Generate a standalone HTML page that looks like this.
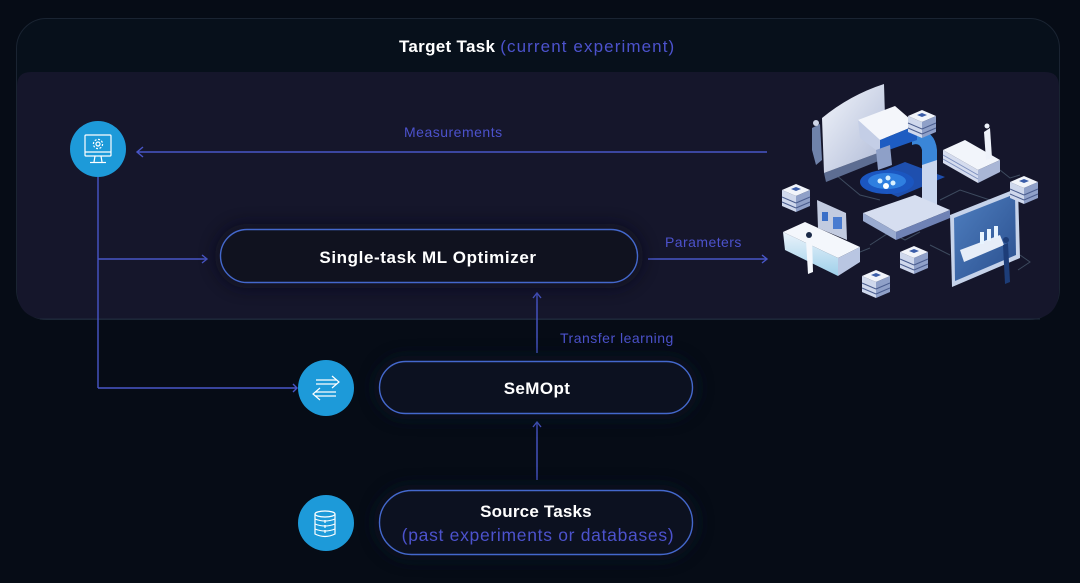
<!DOCTYPE html>
<html><head><meta charset="utf-8"><style>
html,body{margin:0;padding:0;background:#060c16;}
svg{display:block;}
text{font-family:"Liberation Sans",sans-serif;}
</style></head><body>
<svg width="1080" height="583" viewBox="0 0 1080 583" xmlns="http://www.w3.org/2000/svg">
<defs>
<linearGradient id="pan" x1="0" y1="0" x2="1" y2="1"><stop offset="0" stop-color="#f2f5fb"/><stop offset="1" stop-color="#aeb9d6"/></linearGradient>
<linearGradient id="scr" x1="0" y1="0" x2="1" y2="1"><stop offset="0" stop-color="#4f7fc0"/><stop offset="1" stop-color="#2a4f8e"/></linearGradient>
<linearGradient id="bench" x1="0" y1="0" x2="0" y2="1"><stop offset="0" stop-color="#eaf3fb"/><stop offset="1" stop-color="#9fd0ea"/></linearGradient>
<filter id="glow" x="-20%" y="-50%" width="140%" height="200%"><feGaussianBlur stdDeviation="8"/></filter>
</defs>
<rect width="1080" height="583" fill="#060c16"/>
<!-- outer box -->
<rect x="16.5" y="18.5" width="1043" height="301" rx="30" fill="#07101b" stroke="#1a2432" stroke-width="1"/>
<!-- inner box -->
<path d="M17,86 Q17,72 31,72 L1045,72 Q1059,72 1059,86 L1059,289 Q1059,319 1029,319 L47,319 Q17,319 17,289 Z" fill="#15162b"/>
<line x1="40" y1="319" x2="1040" y2="319" stroke="#1f2a3c" stroke-width="1"/>

<!-- title -->
<text x="399" y="52" font-size="17" font-weight="bold" fill="#ffffff" letter-spacing="0.3">Target Task <tspan font-weight="normal" fill="#4c52cc" letter-spacing="1.1">(current experiment)</tspan></text>

<!-- connectors -->
<g stroke="#4856c8" stroke-width="1.4" fill="none">
<line x1="138" y1="152" x2="767" y2="152"/>
<polyline points="143,147 137,152 143,157"/>
<line x1="98" y1="177" x2="98" y2="388"/>
<line x1="98" y1="259" x2="207" y2="259"/>
<polyline points="202,255 207,259 202,263"/>
<line x1="98" y1="388" x2="297" y2="388"/>
<polyline points="293,384 297,388 293,392"/>
<line x1="648" y1="259" x2="767" y2="259"/>
<polyline points="762,255 767,259 762,263"/>
<line x1="537" y1="353" x2="537" y2="294"/>
<polyline points="533,298 537,293 541,298"/>
<line x1="537" y1="480" x2="537" y2="423"/>
<polyline points="533,427 537,422 541,427"/>
</g>

<!-- labels -->
<text x="404" y="137" font-size="14" fill="#4c52cc" letter-spacing="0.5">Measurements</text>
<text x="665" y="247" font-size="14" fill="#4c52cc" letter-spacing="0.45">Parameters</text>
<text x="560" y="343" font-size="14" fill="#4c52cc" letter-spacing="0.5">Transfer learning</text>

<!-- pill glows -->
<g fill="#0a0d1a" opacity="0.6" filter="url(#glow)">
<rect x="215" y="224" width="428" height="64" rx="32"/>
</g>
<g fill="#0e1626" opacity="0.6" filter="url(#glow)">
<rect x="374" y="356" width="324" height="63" rx="31"/>
<rect x="374" y="485" width="324" height="75" rx="37"/>
</g>
<!-- pills -->
<rect x="220.5" y="229.5" width="417" height="53" rx="26.5" fill="#10121f" stroke="#4468cc" stroke-width="1.4"/>
<text x="428" y="263" font-size="17" font-weight="bold" fill="#ffffff" text-anchor="middle" letter-spacing="0.6">Single-task ML Optimizer</text>
<rect x="379.5" y="361.5" width="313" height="52" rx="26" fill="#0c1120" stroke="#4468cc" stroke-width="1.4"/>
<text x="537" y="394" font-size="17" font-weight="bold" fill="#ffffff" text-anchor="middle" letter-spacing="0.4">SeMOpt</text>
<rect x="379.5" y="490.5" width="313" height="64" rx="32" fill="#0c1120" stroke="#4468cc" stroke-width="1.4"/>
<text x="536" y="517" font-size="17" font-weight="bold" fill="#ffffff" text-anchor="middle" letter-spacing="0.2">Source Tasks</text>
<text x="538" y="541" font-size="17.5" fill="#4c52cc" text-anchor="middle" letter-spacing="0.7">(past experiments or databases)</text>

<!-- circle icons -->
<circle cx="98" cy="149" r="28" fill="#1d9ad9"/>
<g stroke="#ffffff" stroke-width="1.2" fill="none">
<rect x="85" y="135" width="26" height="21" rx="1"/>
<line x1="85" y1="152" x2="111" y2="152"/>
<polyline points="95,156 94,162"/><polyline points="101,156 102,162"/>
<line x1="90" y1="162.5" x2="106" y2="162.5"/>
<circle cx="98" cy="144" r="2"/>
<circle cx="98" cy="144" r="4.6" stroke-dasharray="2 1.6"/>
</g>

<circle cx="326" cy="388" r="28" fill="#1d9ad9"/>
<g stroke="#ffffff" stroke-width="1.2" fill="none">
<line x1="316" y1="380" x2="337" y2="380"/><line x1="316" y1="384" x2="337" y2="384"/>
<polyline points="332,376 339,382 332,388"/>
<line x1="315" y1="392" x2="336" y2="392"/><line x1="315" y1="396" x2="336" y2="396"/>
<polyline points="320,388 313,394 320,400"/>
</g>

<circle cx="326" cy="523" r="28" fill="#1d9ad9"/>
<g stroke="#ffffff" stroke-width="1.2" fill="none">
<ellipse cx="325" cy="514" rx="10" ry="3"/>
<path d="M315,514 L315,534 Q325,539 335,534 L335,514"/>
<path d="M315,519 Q325,523 335,519"/><path d="M315,524 Q325,528 335,524"/><path d="M315,529 Q325,533 335,529"/>
<line x1="325" y1="520" x2="325" y2="523"/><line x1="325" y1="525" x2="325" y2="528"/><line x1="325" y1="530" x2="325" y2="533"/>
</g>

<!-- illustration -->
<g>
<g stroke="#3d4a5e" stroke-width="1" fill="none">
<path d="M830,170 L860,195 L880,200"/>
<path d="M940,200 L960,190 L990,200 L1010,205"/>
<path d="M870,245 L890,232 L905,240 L920,232"/>
<path d="M845,258 L870,248"/>
<path d="M1000,170 L1010,178 L1020,175"/>
<path d="M930,245 L950,255"/>
<path d="M1020,255 L1030,262 L1018,270"/>
</g>
<path d="M824,173 L886,150 L886,158 L826,182 Z" fill="#5d6d92"/>
<path d="M822,118 Q850,95 884,84 L886,150 L824,173 Z" fill="url(#pan)"/>
<path d="M812,128 L820,124 L822,160 L816,165 L812,150 Z" fill="#6f82aa"/>
<circle cx="816" cy="123" r="3" fill="#cfd6e8"/>
<path d="M860,180 L905,162 L945,177 L898,197 Z" fill="#1e4fae"/>
<ellipse cx="887" cy="182" rx="27" ry="12" fill="#1b56c0"/>
<ellipse cx="887" cy="181" rx="19" ry="8" fill="#2f7fe0"/>
<circle cx="880" cy="181" r="2.5" fill="#d9f1ff"/><circle cx="888" cy="178" r="2.5" fill="#d9f1ff"/><circle cx="893" cy="183" r="2.5" fill="#d9f1ff"/><circle cx="886" cy="186" r="3" fill="#ffffff"/>
<path d="M912,130 Q935,128 937,150 L937,205 L922,210 L922,150 Q920,142 912,145 Z" fill="#3a86d8"/>
<path d="M922,165 L937,160 L937,208 L922,214 Z" fill="#c9d6ee"/>
<path d="M858,120 L895,106 L917,125 L880,140 Z" fill="#f4f6fb"/>
<path d="M858,120 L880,140 L880,153 L860,138 Z" fill="#c4cee6"/>
<path d="M880,140 L917,125 L917,140 L880,153 Z" fill="#1d5cc2"/>
<path d="M876,150 L890,145 L892,165 L878,170 Z" fill="#8ea0c8"/>
<path d="M863,213 L915,195 L950,210 L896,232 Z" fill="#d6def0"/>
<path d="M863,213 L896,232 L896,240 L863,221 Z" fill="#9aabd0"/>
<path d="M896,232 L950,210 L950,218 L896,240 Z" fill="#6f82b5"/>
<path d="M943,150 L965,140 L1000,160 L978,170 Z" fill="#f2f5fb"/>
<path d="M943,150 L978,170 L978,183 L943,163 Z" fill="#d5dcee"/>
<path d="M978,170 L1000,160 L1000,172 L978,183 Z" fill="#a9b6d6"/>
<g stroke="#7d90bf" stroke-width="1"><line x1="943" y1="155" x2="978" y2="175"/><line x1="943" y1="159" x2="978" y2="179"/></g>
<path d="M984,132 L990,128 L992,158 L986,160 Z" fill="#eef2fa"/><circle cx="987" cy="126" r="2.5" fill="#eef2fa"/>
<path d="M950,215 L1018,188 L1020,258 L952,287 Z" fill="#c6d3ea"/>
<path d="M954,218 L1015,194 L1016,255 L955,281 Z" fill="url(#scr)"/>
<path d="M960,250 L1000,235 L1004,245 L964,262 Z" fill="#e6edf8"/>
<rect x="980" y="232" width="4" height="12" fill="#e8f4ff"/><rect x="987" y="229" width="4" height="12" fill="#e8f4ff"/><rect x="994" y="226" width="4" height="12" fill="#e8f4ff"/>
<path d="M1003,245 L1008,243 L1010,282 L1005,284 Z" fill="#1d3d78"/><circle cx="1006" cy="240" r="3" fill="#1d3d78"/>
<path d="M783,232 L805,222 L860,247 L838,258 Z" fill="#f4f7fc"/>
<path d="M783,232 L838,258 L838,276 L785,250 Z" fill="url(#bench)"/>
<path d="M838,258 L860,247 L860,262 L838,276 Z" fill="#b9c6e2"/>
<path d="M806,240 L812,237 L813,272 L808,274 Z" fill="#f4f7fc"/><circle cx="809" cy="235" r="3" fill="#1b2a48"/>
<path d="M817,200 L846,213 L847,240 L818,228 Z" fill="#c2cbe0"/>
<rect x="822" y="212" width="6" height="9" fill="#3a6fc8"/><rect x="833" y="217" width="9" height="12" fill="#4a7cd0"/>
<g id="blk">
<path d="M782,190 L796,184 L810,190 L796,196 Z" fill="#f1f4fa"/>
<path d="M782,190 L796,196 L796,212 L782,206 Z" fill="#cfd8ec"/>
<path d="M796,196 L810,190 L810,206 L796,212 Z" fill="#8fa0c8"/>
<g stroke="#4a5d8e" stroke-width="1"><line x1="782" y1="197" x2="796" y2="203"/><line x1="796" y1="203" x2="810" y2="197"/><line x1="782" y1="202" x2="796" y2="208"/><line x1="796" y1="208" x2="810" y2="202"/></g>
<path d="M791,189 L796,187 L801,189 L796,191 Z" fill="#3a5ca8"/>
</g>
<use href="#blk" x="228" y="-8"/>
<use href="#blk" x="118" y="62"/>
<use href="#blk" x="80" y="86"/>
<use href="#blk" x="126" y="-74"/>
</g>
</svg>
</body></html>
